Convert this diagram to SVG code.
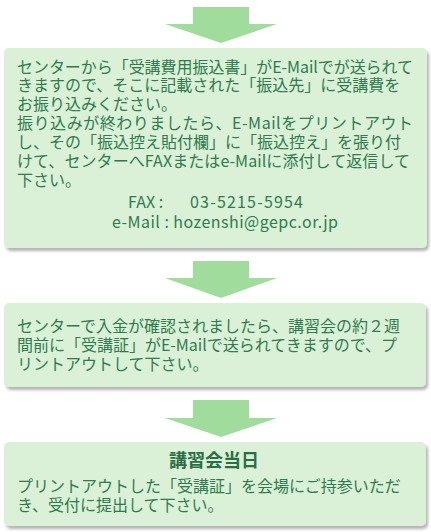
<svg xmlns="http://www.w3.org/2000/svg" width="431" height="532" viewBox="0 0 431 532">
  <style>
    .box { fill: #daf1d8; filter: url(#shadow); }
    .t { font-family: "Noto Sans CJK JP", "Noto Sans", sans-serif; font-size: 16px; fill: #2f7b4f; }
    .title { font-family: "Noto Sans CJK JP", "Noto Sans", sans-serif; font-size: 18px; font-weight: bold; fill: #2a6f46; }
    .arrow { fill: #a0dc9b; }
  </style>
  <defs>
    <filter id="shadow" x="-5%" y="-10%" width="110%" height="125%">
      <feGaussianBlur in="SourceAlpha" stdDeviation="1.5"/>
      <feOffset dx="1.5" dy="3" result="b"/>
      <feComponentTransfer><feFuncA type="linear" slope="0.3"/></feComponentTransfer>
      <feMerge><feMergeNode/><feMergeNode in="SourceGraphic"/></feMerge>
    </filter>
  </defs>
  <rect width="431" height="532" fill="#ffffff"/>
  <g id="connectors">
    <polygon class="arrow" points="193,7 249,7 249,24 277,24 221,43 165,24 193,24"/>
    <polygon class="arrow" points="193,261 249,261 249,278 277,278 221,298 165,278 193,278"/>
    <polygon class="arrow" points="193,400 249,400 249,418 277,418 221,437 165,418 193,418"/>
  </g>
  <g id="node1">
    <rect class="box" x="4" y="48" width="423" height="200" rx="5"/>
    <text class="t" x="17" y="72.5" textLength="396" lengthAdjust="spacing">センターから「受講費用振込書」がE-Mailでが送られて</text>
    <text class="t" x="17" y="91.3">きますので、そこに記載された「振込先」に受講費を</text>
    <text class="t" x="17" y="110.2">お振り込みください。</text>
    <text class="t" x="17" y="129" textLength="396" lengthAdjust="spacing">振り込みが終わりましたら、E-Mailをプリントアウト</text>
    <text class="t" x="17" y="147.9">し、その「振込控え貼付欄」に「振込控え」を張り付</text>
    <text class="t" x="17" y="166.7" textLength="393" lengthAdjust="spacing">けて、センターへFAXまたはe-Mailに添付して返信して</text>
    <text class="t" x="17" y="185.6">下さい。</text>
    <text class="t" x="128" y="208">FAX :</text>
    <text class="t" x="190" y="208" textLength="113" lengthAdjust="spacing">03-5215-5954</text>
    <text class="t" x="112" y="227.5" textLength="226" lengthAdjust="spacing">e-Mail : hozenshi@gepc.or.jp</text>
  </g>
  <g id="node2">
    <rect class="box" x="4" y="303" width="422" height="84" rx="5"/>
    <text class="t" x="17" y="331.5">センターで入金が確認されましたら、講習会の約２週</text>
    <text class="t" x="17" y="350.5" textLength="380" lengthAdjust="spacing">間前に「受講証」がE-Mailで送られてきますので、プ</text>
    <text class="t" x="17" y="369.5">リントアウトして下さい。</text>
  </g>
  <g id="node3">
    <rect class="box" x="4" y="442" width="422" height="84" rx="5"/>
    <text class="title" x="214" y="467" text-anchor="middle">講習会当日</text>
    <text class="t" x="17" y="491.5">プリントアウトした「受講証」を会場にご持参いただ</text>
    <text class="t" x="17" y="510.5">き、受付に提出して下さい。</text>
  </g>
</svg>
